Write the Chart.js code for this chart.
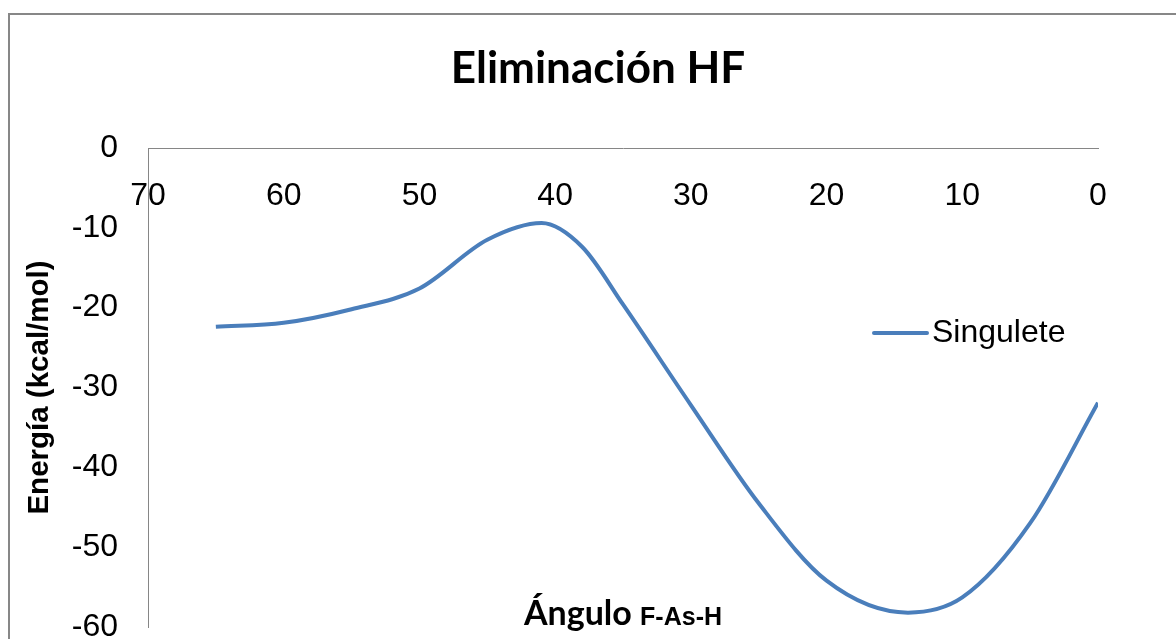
<!DOCTYPE html>
<html lang="es">
<head>
  <meta charset="UTF-8" />
  <title>Eliminación HF</title>
  <script src="https://cdn.jsdelivr.net/npm/chart.js"></script>
  <style>
    html, body { margin: 0; padding: 0; background: #fff; overflow: hidden; }
    body { width: 1176px; height: 639px; position: relative; }
    #frame {
      position: absolute; left: 8px; top: 13px;
      width: 1300px; height: 800px;
      border: 2px solid #878787; box-sizing: border-box;
    }
    #chart { position: absolute; left: 0; top: 0; }
  </style>
</head>
<body>
  <div id="frame"></div>
  <canvas id="chart" width="1196" height="639"></canvas>

  <script>
    // Ángulo F-As-H (grados) y energía (kcal/mol)
    const angles    = [65, 60, 55, 50, 45, 41, 38, 35, 30, 25, 20, 14, 10, 5, 0];
    const singulete = [-22.4, -21.9, -20.2, -17.6, -11.5, -9.4, -12.4, -19.6, -32.2, -44.5,
                       -54.2, -58.2, -56.3, -47.0, -31.9];
    const xTicks = [70, 60, 50, 40, 30, 20, 10, 0];
    const yTicks = [0, -10, -20, -30, -40, -50, -60];

    const ARIAL = "'Liberation Sans', Arial, sans-serif";
    const CALIBRI = "Lato, 'Liberation Sans', sans-serif";

    // leyenda dentro del área y título del eje X con dos tamaños de letra
    const overlay = {
      id: "overlay",
      afterDraw(chart) {
        const { ctx, chartArea } = chart;
        const ds = chart.data.datasets[0];
        ctx.save();

        const lx = chartArea.right - 224, ly = chartArea.top + 185;
        ctx.strokeStyle = ds.borderColor;
        ctx.lineWidth = ds.borderWidth;
        ctx.lineCap = "round";
        ctx.beginPath();
        ctx.moveTo(lx, ly);
        ctx.lineTo(lx + 53, ly);
        ctx.stroke();
        ctx.fillStyle = "#000";
        ctx.font = "32px " + ARIAL;
        ctx.textBaseline = "middle";
        ctx.textAlign = "left";
        ctx.fillText(ds.label, lx + 58, ly);

        const big = "bold 34px " + CALIBRI, small = "bold 25px " + ARIAL;
        ctx.font = big;
        const w1 = ctx.measureText("Ángulo ").width;
        ctx.font = small;
        const w2 = ctx.measureText("F-As-H").width;
        const x = (chartArea.left + chartArea.right) / 2 - (w1 + w2) / 2;
        const y = chartArea.bottom - 2;
        ctx.textBaseline = "alphabetic";
        ctx.font = big;
        ctx.fillText("Ángulo ", x, y);
        ctx.font = small;
        ctx.fillText("F-As-H", x + w1, y);
        ctx.restore();
      }
    };

    new Chart(document.getElementById("chart"), {
      type: "line",
      data: {
        labels: angles,
        datasets: [{
          label: "Singulete",
          data: angles.map((a, i) => ({ x: a, y: singulete[i] })),
          borderColor: "#4a7ebb",
          borderWidth: 4,
          pointRadius: 0,
          fill: false,
          cubicInterpolationMode: "monotone"
        }]
      },
      options: {
        responsive: false,
        animation: false,
        layout: { padding: { left: 0, right: 0, top: 0, bottom: 12 } },
        plugins: {
          legend: { display: false },
          tooltip: { enabled: false },
          title: {
            display: true,
            text: "Eliminación HF",
            color: "#000",
            font: { family: CALIBRI, size: 44, weight: "bold" },
            padding: { top: 42, bottom: 53.2 }
          }
        },
        scales: {
          x: {
            type: "linear",
            reverse: true,
            min: 0,
            max: 70,
            position: { y: 0 },
            afterBuildTicks: s => { s.ticks = xTicks.map(v => ({ value: v })); },
            grid: { display: false, drawTicks: false },
            border: { display: true, color: "#868686", width: 1 },
            ticks: { color: "#000", padding: 29, maxRotation: 0, font: { family: ARIAL, size: 32 } }
          },
          y: {
            min: -60,
            max: 0,
            afterBuildTicks: s => { s.ticks = yTicks.map(v => ({ value: v })); },
            afterFit: s => { s.width = 148; s.paddingTop = 0; s.paddingBottom = 0; },
            grid: { display: false, drawTicks: false },
            border: { display: true, color: "#868686", width: 1 },
            ticks: { color: "#000", padding: 30, font: { family: ARIAL, size: 32 } },
            title: {
              display: true,
              text: "Energía (kcal/mol)",
              color: "#000",
              font: { family: ARIAL, size: 29.5, weight: "bold" },
              padding: { top: 22, bottom: 0 }
            }
          },
          // margen derecho vacío, como en el gráfico original
          yRight: {
            position: "right",
            min: -60,
            max: 0,
            afterFit: s => { s.width = 98; s.paddingTop = 0; s.paddingBottom = 0; },
            grid: { display: false, drawTicks: false },
            border: { display: false },
            ticks: { display: false }
          }
        }
      },
      plugins: [overlay]
    });
  </script>
</body>
</html>
